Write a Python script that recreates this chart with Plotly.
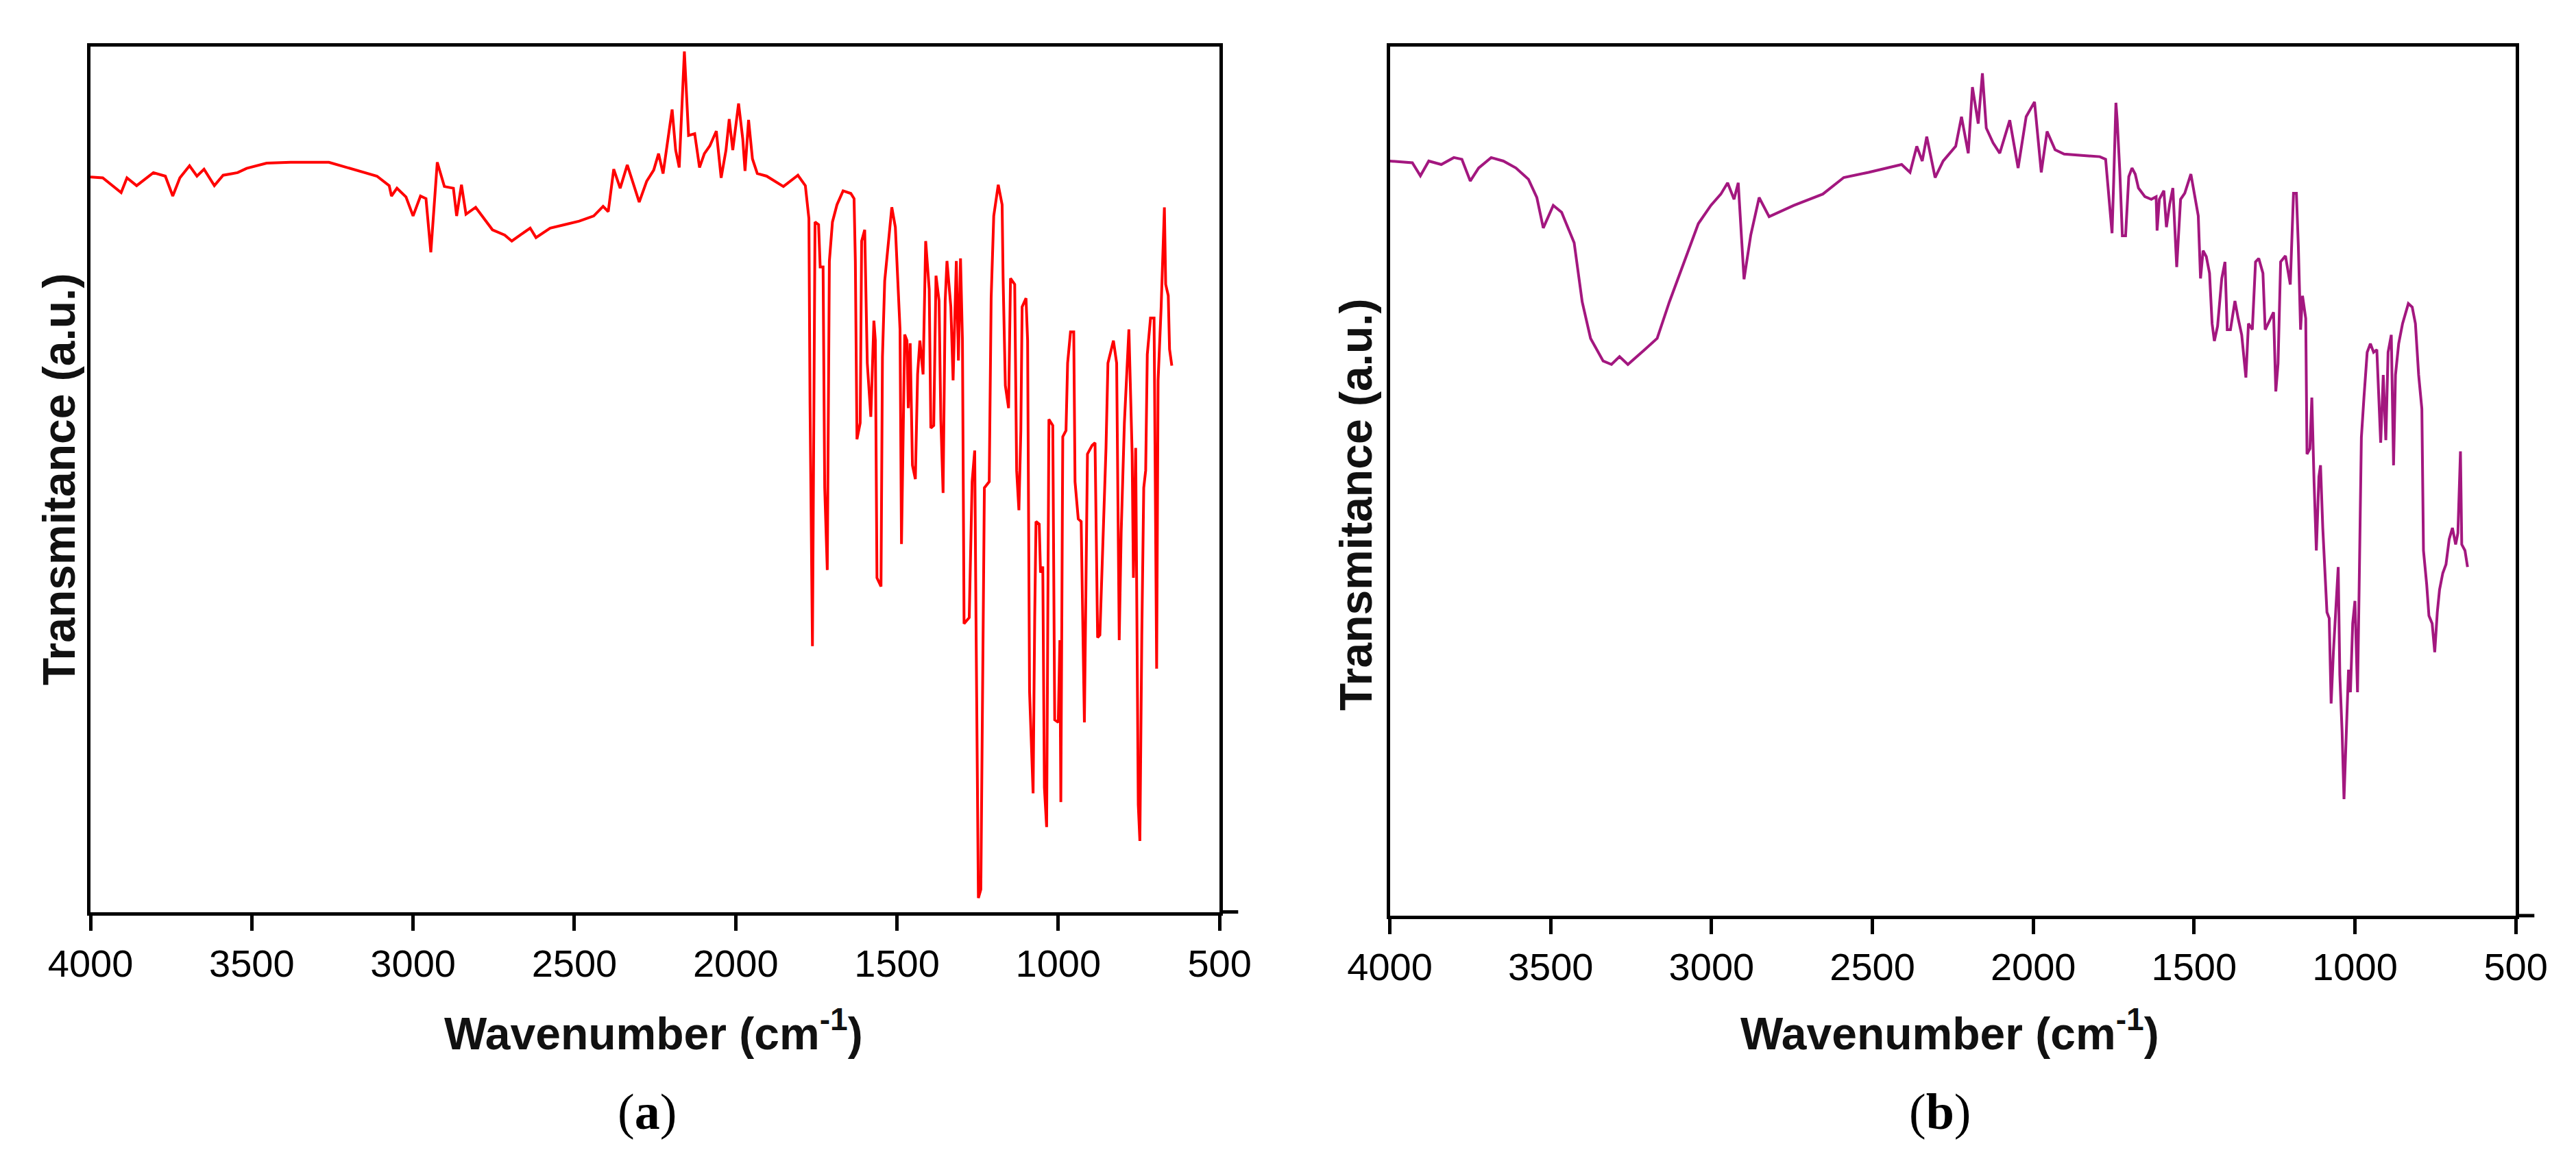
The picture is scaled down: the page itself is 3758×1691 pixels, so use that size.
import plotly.graph_objects as go

# ---------------- data ----------------
# Panel (a): wavenumber (cm-1) and transmittance (a.u., 0-100 of axis height)
wn_a = [4000, 3962, 3905, 3887, 3857, 3805, 3768, 3745, 3723, 3693, 3670, 3648, 3616, 3589, 3544,
        3516, 3454, 3380, 3261, 3216, 3156, 3112, 3074, 3067, 3050, 3022, 3000, 2977, 2960, 2945,
        2925, 2903, 2875, 2865, 2850, 2836, 2806, 2790, 2754, 2716, 2694, 2664, 2637, 2619, 2575,
        2530, 2485, 2440, 2411, 2395, 2378, 2358, 2336, 2299, 2276, 2254, 2239, 2225, 2209, 2197,
        2186, 2175, 2159, 2146, 2127, 2112, 2097, 2080, 2060, 2045, 2030, 2020, 2009, 1991, 1978,
        1971, 1960, 1948, 1933, 1904, 1852, 1807, 1784,
        1773, 1769.5, 1762, 1754, 1743, 1738, 1729, 1724, 1716, 1709.5, 1700, 1686, 1667, 1643,
        1633, 1629, 1624, 1614, 1609.5, 1600, 1592, 1581, 1571.5, 1567, 1562, 1549.5, 1545, 1538,
        1529, 1516, 1505, 1497, 1490.5, 1486, 1476, 1469, 1465, 1459, 1452, 1443, 1436, 1429, 1419,
        1411, 1400, 1395, 1386, 1379, 1369.5, 1364, 1357, 1350.5, 1345, 1333, 1326, 1316, 1309.5,
        1303, 1297, 1292, 1276, 1267, 1259, 1255, 1247.6, 1240, 1233, 1229, 1214, 1208, 1200, 1186,
        1174, 1171, 1164, 1154, 1148, 1135, 1129, 1122, 1116, 1112, 1100, 1095, 1089, 1078, 1073,
        1069, 1059, 1055, 1048, 1043, 1036, 1029, 1017, 1011, 1000, 995, 992, 986, 976, 971, 962,
        952, 948, 938, 929, 919, 909.5, 895, 886, 878, 871, 862, 852, 846, 829, 819, 811, 805, 795,
        781, 771, 767, 760, 752, 747, 741, 735, 729, 724, 714, 703, 695, 690.5, 681, 671, 667, 659,
        655, 648]
t_a = [84.9, 84.8, 83.1, 84.8, 83.9, 85.4, 85.0, 82.7, 84.8, 86.2, 85.0, 85.8, 83.9, 85.1, 85.4,
       85.9, 86.5, 86.6, 86.6, 86.1, 85.5, 85.0, 83.9, 82.7, 83.6, 82.6, 80.4, 82.7, 82.4, 76.2,
       86.6, 83.8, 83.6, 80.4, 84.0, 80.6, 81.4, 80.6, 78.8, 78.2, 77.5, 78.3, 79.0, 77.9, 79.0,
       79.4, 79.8, 80.4, 81.5, 80.9, 85.8, 83.6, 86.3, 82.0, 84.4, 85.7, 87.6, 85.3, 89.4, 92.7,
       88.0, 86.0, 99.4, 89.7, 89.9, 86.0, 87.6, 88.5, 90.2, 84.8, 88.0, 91.6, 88.0, 93.4, 89.3,
       85.6, 91.5, 87.0, 85.3, 85.0, 83.8, 85.1, 83.9,
       80.1, 58.8, 30.7, 79.7, 79.4, 74.5, 74.5, 49.0, 39.5, 75.2, 79.7, 81.7, 83.3, 83.0,
       82.4, 75.2, 54.6, 56.5, 77.5, 78.8, 63.4, 57.2, 68.3, 66.0, 38.6, 37.6, 64.1, 72.9,
       76.1, 81.4, 79.1, 72.5, 67.3, 42.5, 66.7, 66.0, 58.2, 65.7, 51.6, 50.0, 62.1, 66.0, 62.1,
       77.5, 71.9, 55.9, 56.2, 73.5, 70.6, 56.9, 48.4, 70.6, 75.2, 69.9, 61.4, 75.2, 63.7,
       75.5, 66.0, 33.3, 34.0, 49.7, 53.3, 34.0, 1.6, 2.6, 35.9, 49.0, 49.7, 70.9, 80.4, 84.0,
       81.7, 73.2, 60.8, 58.2, 73.2, 72.5, 51.0, 46.4, 55.6, 69.9, 70.9, 66.0, 25.5, 13.7, 34.0,
       45.1, 44.8, 39.2, 39.9, 14.4, 9.8, 56.9, 56.2, 22.2, 21.9, 31.4, 12.7, 54.9, 55.6, 63.4, 67.0,
       67.0, 49.7, 45.4, 45.1, 21.9, 52.9, 53.9, 54.2, 31.7, 32.0, 42.5, 53.6, 63.4, 66.0, 63.4, 31.4, 43.8, 56.5,
       67.3, 52.9, 38.6, 53.6, 12.4, 8.2, 32.0, 49.0, 51.0, 64.4, 68.6, 68.6, 28.1, 61.4, 69.9, 81.4, 72.5, 71.2,
       65.0, 63.1]

# Panel (b)
wn_b = [4000, 3930, 3905, 3879, 3840, 3801, 3776, 3750, 3724, 3685, 3647, 3608, 3569, 3543, 3523,
        3492, 3466, 3427, 3402, 3376, 3337, 3311, 3286, 3260, 3208, 3169, 3131, 3079, 3041, 3002,
        2971, 2950, 2930, 2917, 2899, 2878, 2852, 2821, 2744, 2654, 2589, 2512, 2409, 2383, 2362,
        2345, 2331, 2305, 2280, 2241, 2223, 2202, 2189, 2171, 2158, 2146, 2125, 2104, 2073, 2047,
        2022, 1996, 1975, 1957, 1932, 1904, 1854, 1793,
        1775, 1765, 1755, 1750, 1743, 1739, 1731, 1723, 1713, 1703, 1693, 1683, 1673, 1653, 1633,
        1618, 1615, 1608, 1594, 1586, 1576, 1566, 1554, 1542, 1529, 1510, 1497, 1487, 1480, 1472,
        1462, 1452, 1444, 1437, 1427, 1414, 1404, 1397, 1387, 1373, 1363, 1352, 1339, 1331, 1319,
        1309, 1299, 1286, 1279, 1266, 1253, 1246, 1239, 1231, 1216, 1201, 1196, 1191, 1182, 1176,
        1169, 1163, 1153, 1149, 1140, 1134, 1127, 1120, 1112, 1107, 1100, 1092, 1087, 1080, 1074,
        1067, 1062, 1052, 1047, 1040, 1034, 1027, 1020, 1014, 1007, 1000, 992, 987, 980, 972, 962,
        952, 942, 932, 920, 912, 904, 897, 887, 880, 874, 864, 852, 834, 822, 812, 802, 792, 787,
        777, 770, 760, 752, 744, 737, 727, 717, 707, 697, 687, 680, 672, 668, 658, 650]
t_b = [86.8, 86.6, 85.1, 86.8, 86.4, 87.2, 87.0, 84.5, 86.0, 87.2, 86.8, 86.0, 84.7, 82.6, 79.1,
       81.7, 80.9, 77.4, 70.6, 66.4, 63.8, 63.4, 64.3, 63.4, 65.1, 66.4, 70.6, 75.7, 79.6, 81.7,
       83.0, 84.3, 82.4, 84.3, 73.2, 78.3, 82.6, 80.4, 81.7, 83.0, 84.9, 85.5, 86.4, 85.5, 88.5,
       86.8, 89.6, 84.9, 86.8, 88.5, 91.9, 87.7, 95.3, 91.1, 96.9, 90.6, 88.9, 87.7, 91.5, 86.0,
       91.9, 93.6, 85.5, 90.2, 88.1, 87.6, 87.5, 87.3,
       87.0, 83.1, 78.5, 84.4, 93.5, 91.5, 85.7, 78.2, 78.2, 85.0, 86.0, 85.3, 83.7, 82.7, 82.4,
       82.7, 78.8, 82.4, 83.4, 79.2, 81.8, 83.7, 74.6, 82.4, 83.1, 85.3, 82.7, 80.5, 73.3, 76.5,
       75.8, 73.9, 68.1, 66.1, 67.8, 73.3, 75.2, 67.4, 67.4, 70.7, 68.7, 66.8, 61.9, 68.1, 67.4,
       75.2, 75.6, 73.9, 67.4, 68.4, 69.4, 60.3, 63.5, 75.2, 75.9, 72.6, 78.5, 83.1, 83.1, 77.1,
       67.4, 71.3, 68.7, 53.1, 53.7, 59.6, 49.8, 42.0, 50.5, 51.8, 44.6, 38.1, 34.9, 34.2, 24.4,
       30.3, 33.6, 40.1, 27.7, 21.2, 13.4, 19.9, 28.3, 25.7, 33.6, 36.2, 25.7, 37.5, 55.0, 59.6, 64.8,
       65.8, 64.8, 65.1, 54.4, 62.2, 54.7, 64.8, 66.8, 51.8, 62.2, 65.8, 68.1, 70.4, 70.0, 68.1, 62.2, 58.3, 42.0,
       38.1, 34.5, 33.6, 30.3, 34.9, 37.5, 39.4, 40.4, 43.3, 44.6, 42.7, 44.0, 53.4, 42.7, 42.0, 40.1]

x_ticks = [4000, 3500, 3000, 2500, 2000, 1500, 1000, 500]
x_title = "Wavenumber (cm<sup>-1</sup>)"
y_title = "Transmitance (a.u.)"
captions = ["(<b>a</b>)", "(<b>b</b>)"]

# ---------------- figure ----------------
SANS = "Liberation Sans, Arial, sans-serif"
SERIF = "Liberation Serif, Times New Roman, serif"

fig = go.Figure()
fig.add_trace(go.Scatter(x=wn_a, y=t_a, mode="lines", line=dict(color="#ff0000", width=4),
                         xaxis="x", yaxis="y", showlegend=False))
fig.add_trace(go.Scatter(x=wn_b, y=t_b, mode="lines", line=dict(color="#a3177f", width=4),
                         xaxis="x2", yaxis="y2", showlegend=False))

xa = dict(range=[4000, 500], tickvals=x_ticks, ticktext=[str(v) for v in x_ticks],
          ticks="outside", ticklen=22, tickwidth=5, tickcolor="black",
          showline=True, linewidth=5, linecolor="black", mirror=True,
          showgrid=False, zeroline=False, automargin=False,
          tickfont=dict(family=SANS, size=56, color="black"))
ya = dict(range=[0, 100], showticklabels=False, ticks="",
          showline=True, linewidth=5, linecolor="black", mirror=True,
          showgrid=False, zeroline=False, automargin=False)

fig.update_layout(
    width=3758, height=1691,
    margin=dict(l=0, r=0, t=0, b=0, autoexpand=False),
    paper_bgcolor="white", plot_bgcolor="white",
    xaxis=dict(xa, domain=[0.0330, 0.4713], anchor="y"),
    yaxis=dict(ya, domain=[0.2179, 0.9648], anchor="x"),
    xaxis2=dict(xa, domain=[0.5374, 0.9745], anchor="y2"),
    yaxis2=dict(ya, domain=[0.2147, 0.9648], anchor="x2"),
)

# axis line continues slightly beyond 500
for xr, yr in (("x domain", "y domain"), ("x2 domain", "y2 domain")):
    fig.add_shape(type="line", xref=xr, yref=yr, x0=1.0, x1=1.0165, y0=0, y1=0,
                  line=dict(color="black", width=5), layer="above")

title_font = dict(family=SANS, size=66, color="#111111")
for xc in (0.2517, 0.7547):
    fig.add_annotation(text="<b>" + x_title + "</b>", xref="paper", yref="paper",
                       x=xc, y=0.1159, xanchor="center", yanchor="middle",
                       showarrow=False, font=title_font)
for cap, xc in zip(captions, (0.2490, 0.7510)):
    fig.add_annotation(text=cap, xref="paper", yref="paper", x=xc, y=0.0455,
                       xanchor="center", yanchor="middle", showarrow=False,
                       font=dict(family=SERIF, size=74, color="black"))
for xc, yc in ((0.0208, 0.5914), (0.5242, 0.5695)):
    fig.add_annotation(text="<b>" + y_title + "</b>", xref="paper", yref="paper",
                       x=xc, y=yc, xanchor="center", yanchor="middle", textangle=-90,
                       showarrow=False, font=title_font)

fig.write_html("out.html")
